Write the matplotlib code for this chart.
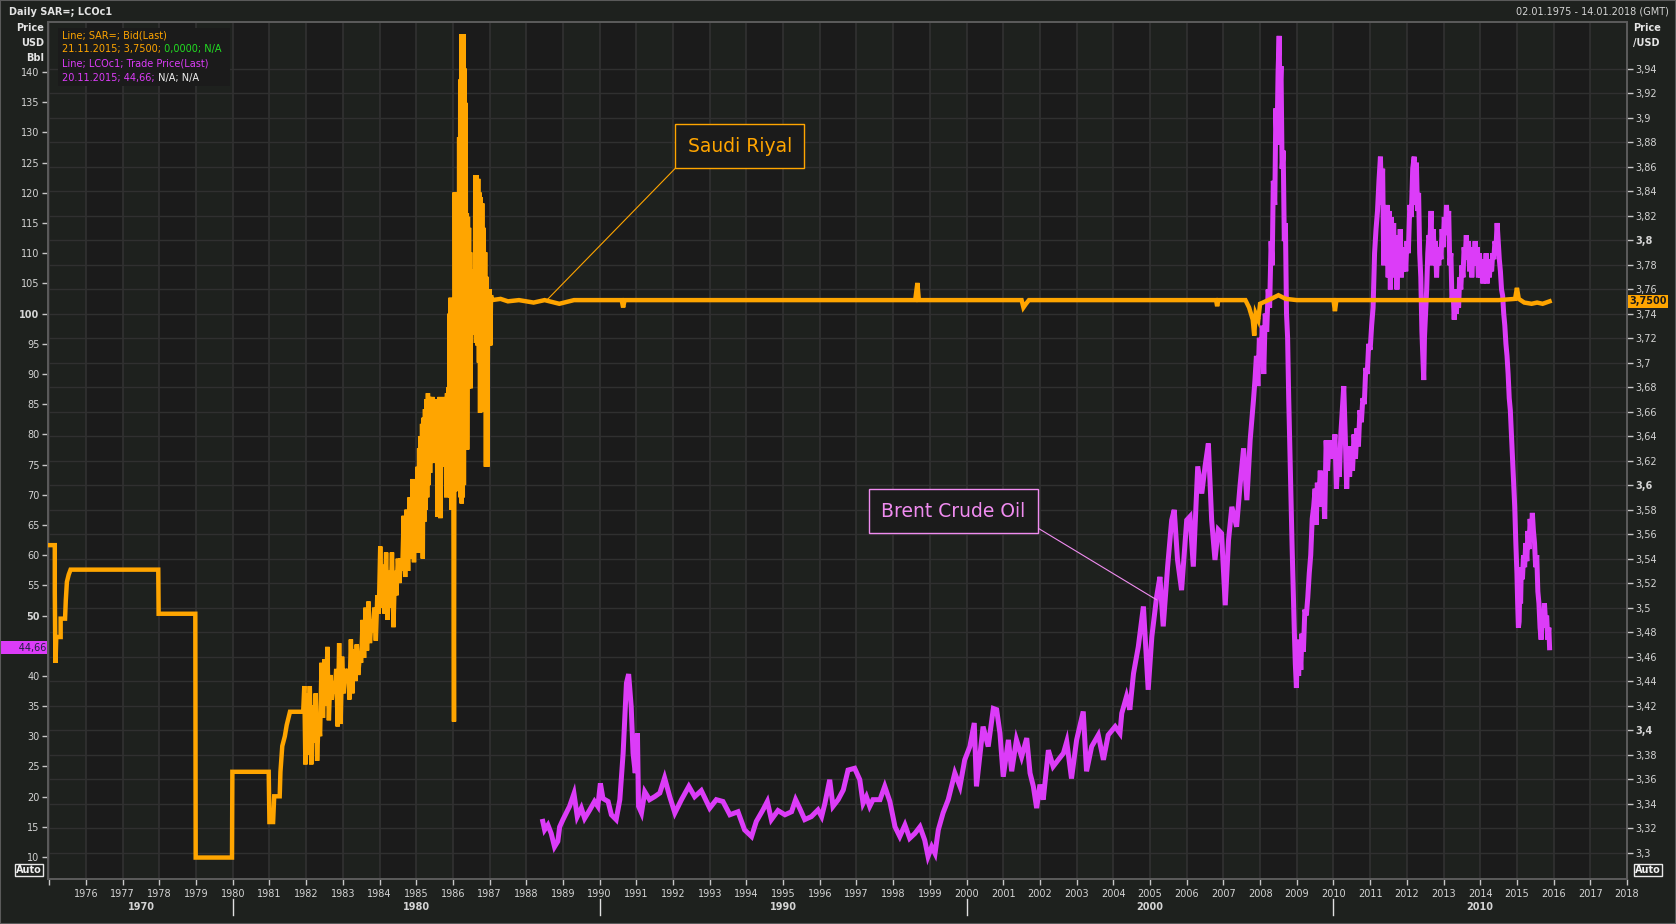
import matplotlib
matplotlib.use("Agg")
import matplotlib.pyplot as plt
import matplotlib.transforms as mtransforms
from matplotlib.patches import Rectangle
import numpy as np

W, H, DPI = 1676, 924, 100

BG = "#1e211e"
PLOT_BG = "#1b1b1b"
BAND = "#1e211e"
GRID = "#303030"
ORANGE = "#ffa500"
PURPLE = "#dc3cf8"
PINK = "#f08cf0"
GREEN = "#22dd22"
TXT = "#d4d4d4"

plt.rcParams["font.family"] = ["DejaVu Sans"]

# ---- data (decimal years) ----
# Saudi riyal per USD, right axis
sar_steps = [
    (1975.00, 3.551), (1975.15, 3.551), (1975.15, 3.513), (1975.16, 3.476),
    (1975.17, 3.455), (1975.19, 3.476), (1975.31, 3.476), (1975.31, 3.491),
    (1975.43, 3.491), (1975.45, 3.506), (1975.48, 3.521), (1975.53, 3.527),
    (1975.58, 3.531), (1977.97, 3.531), (1977.98, 3.495), (1978.98, 3.495),
    (1978.99, 3.296), (1979.98, 3.296), (1979.99, 3.366), (1980.98, 3.366),
    (1981.00, 3.325), (1981.10, 3.325), (1981.13, 3.346), (1981.28, 3.346),
    (1981.30, 3.366), (1981.35, 3.387), (1981.42, 3.395), (1981.47, 3.404),
    (1981.56, 3.415), (1981.92, 3.415),
]
sar_float = [
    (1981.95, 3.436), (1981.98, 3.372), (1982.02, 3.430), (1982.06, 3.380),
    (1982.10, 3.436), (1982.14, 3.372), (1982.18, 3.420), (1982.22, 3.390),
    (1982.26, 3.430), (1982.30, 3.375), (1982.34, 3.410), (1982.38, 3.395),
    (1982.42, 3.455), (1982.46, 3.410), (1982.50, 3.458), (1982.54, 3.420),
    (1982.58, 3.468), (1982.62, 3.408), (1982.66, 3.445), (1982.70, 3.425),
    (1982.74, 3.440), (1982.78, 3.430), (1982.82, 3.450), (1982.86, 3.403),
    (1982.90, 3.471), (1982.94, 3.405), (1982.98, 3.460), (1983.02, 3.430),
    (1983.06, 3.450), (1983.10, 3.440), (1983.14, 3.450), (1983.18, 3.425),
    (1983.22, 3.474), (1983.26, 3.430), (1983.30, 3.466), (1983.34, 3.440),
    (1983.38, 3.470), (1983.42, 3.445), (1983.46, 3.460), (1983.50, 3.455),
    (1983.54, 3.490), (1983.58, 3.459), (1983.62, 3.500), (1983.66, 3.465),
    (1983.70, 3.505), (1983.74, 3.471), (1983.78, 3.490), (1983.82, 3.480),
    (1983.86, 3.500), (1983.90, 3.473), (1983.94, 3.510), (1983.98, 3.495),
    (1984.02, 3.550), (1984.06, 3.500), (1984.10, 3.535), (1984.14, 3.495),
    (1984.18, 3.545), (1984.22, 3.490), (1984.26, 3.530), (1984.30, 3.500),
    (1984.34, 3.545), (1984.38, 3.484), (1984.42, 3.530), (1984.46, 3.510),
    (1984.50, 3.540), (1984.54, 3.520), (1984.58, 3.540), (1984.62, 3.530),
    (1984.66, 3.575), (1984.70, 3.525), (1984.74, 3.580), (1984.78, 3.530),
    (1984.82, 3.590), (1984.86, 3.540), (1984.90, 3.605), (1984.94, 3.537),
    (1984.98, 3.600),
]
sar_1985 = [
    (1985.00, 3.600), (1985.02, 3.545), (1985.04, 3.615), (1985.06, 3.550),
    (1985.08, 3.630), (1985.10, 3.560), (1985.12, 3.640), (1985.14, 3.545),
    (1985.16, 3.650), (1985.18, 3.540), (1985.20, 3.655), (1985.22, 3.570),
    (1985.24, 3.662), (1985.26, 3.580), (1985.28, 3.670), (1985.30, 3.590),
    (1985.32, 3.675), (1985.34, 3.600), (1985.36, 3.672), (1985.38, 3.610),
    (1985.40, 3.668), (1985.42, 3.618), (1985.44, 3.672), (1985.46, 3.620),
    (1985.48, 3.670), (1985.50, 3.630), (1985.52, 3.668), (1985.54, 3.618),
    (1985.56, 3.670), (1985.58, 3.574), (1985.60, 3.665), (1985.62, 3.620),
    (1985.64, 3.672), (1985.66, 3.573), (1985.68, 3.665), (1985.70, 3.622),
    (1985.72, 3.670), (1985.74, 3.615), (1985.76, 3.672), (1985.78, 3.620),
    (1985.80, 3.668), (1985.82, 3.590), (1985.84, 3.675), (1985.86, 3.615),
    (1985.88, 3.680), (1985.90, 3.600), (1985.91, 3.740), (1985.93, 3.590),
    (1985.94, 3.753), (1985.96, 3.580), (1985.97, 3.750), (1985.99, 3.590),
    (1986.00, 3.752), (1986.02, 3.500), (1986.03, 3.407), (1986.04, 3.600),
    (1986.05, 3.839), (1986.07, 3.595), (1986.08, 3.839), (1986.10, 3.600),
    (1986.11, 3.839), (1986.13, 3.598), (1986.14, 3.839), (1986.16, 3.692),
    (1986.17, 3.884), (1986.19, 3.600), (1986.20, 3.931), (1986.21, 3.590),
    (1986.23, 3.968), (1986.24, 3.585), (1986.26, 3.968), (1986.27, 3.590),
    (1986.29, 3.968), (1986.30, 3.600), (1986.32, 3.940), (1986.33, 3.629),
    (1986.35, 3.912), (1986.36, 3.629), (1986.38, 3.822), (1986.39, 3.629),
    (1986.41, 3.819), (1986.42, 3.679), (1986.44, 3.810), (1986.45, 3.680),
    (1986.47, 3.790), (1986.48, 3.679), (1986.50, 3.776), (1986.52, 3.723),
    (1986.54, 3.776), (1986.56, 3.725), (1986.58, 3.776), (1986.60, 3.724),
    (1986.61, 3.853), (1986.63, 3.716), (1986.65, 3.853), (1986.67, 3.714),
    (1986.69, 3.850), (1986.71, 3.700), (1986.72, 3.839), (1986.74, 3.659),
    (1986.76, 3.835), (1986.78, 3.660), (1986.80, 3.830), (1986.82, 3.680),
    (1986.84, 3.810), (1986.86, 3.680), (1986.88, 3.790), (1986.90, 3.615),
    (1986.92, 3.770), (1986.94, 3.615), (1986.96, 3.760), (1986.98, 3.714),
    (1987.00, 3.760), (1987.02, 3.714), (1987.04, 3.755),
]
sar_peg = [
    (1987.06, 3.751), (1987.30, 3.752), (1987.50, 3.750), (1987.80, 3.751),
    (1988.20, 3.749), (1988.50, 3.751), (1988.90, 3.748), (1989.30, 3.751),
    (1990.60, 3.751), (1990.64, 3.745), (1990.68, 3.751), (1995.00, 3.751),
    (1998.60, 3.751), (1998.66, 3.765), (1998.70, 3.751), (2001.50, 3.751),
    (2001.55, 3.745), (2001.62, 3.748), (2001.70, 3.751), (2006.80, 3.751),
    (2006.83, 3.746), (2006.86, 3.751), (2007.60, 3.751), (2007.70, 3.745),
    (2007.80, 3.735), (2007.84, 3.722), (2007.88, 3.740), (2007.95, 3.735),
    (2008.00, 3.748), (2008.30, 3.752), (2008.50, 3.755), (2008.70, 3.752),
    (2009.00, 3.751), (2010.00, 3.751), (2010.04, 3.742), (2010.08, 3.751),
    (2014.50, 3.751), (2014.95, 3.752), (2015.00, 3.761), (2015.05, 3.752),
    (2015.20, 3.749), (2015.40, 3.748), (2015.55, 3.749), (2015.70, 3.748),
    (2015.89, 3.750),
]

# Brent crude, USD/bbl, left axis
brent_1988 = [
    (1988.45, 15.9), (1988.50, 14.5), (1988.59, 15.3), (1988.68, 13.9),
    (1988.77, 11.7), (1988.86, 12.6), (1988.91, 15.0), (1989.00, 16.2),
    (1989.09, 17.3), (1989.18, 18.4), (1989.30, 20.5), (1989.39, 16.7),
    (1989.50, 18.1), (1989.59, 16.4), (1989.73, 17.8), (1989.86, 19.2),
    (1989.95, 18.4), (1990.02, 22.2), (1990.09, 19.7), (1990.23, 19.2),
    (1990.32, 17.0), (1990.45, 16.2), (1990.55, 19.5), (1990.64, 27.2),
    (1990.73, 38.8), (1990.79, 40.3), (1990.86, 34.9), (1990.91, 27.2),
    (1990.97, 23.9), (1991.03, 30.5), (1991.06, 18.4), (1991.14, 17.3),
    (1991.23, 20.8), (1991.36, 19.5), (1991.50, 20.0), (1991.64, 20.6),
    (1991.77, 23.1), (1991.91, 20.0), (1992.05, 17.3), (1992.23, 19.5),
    (1992.43, 21.7), (1992.59, 20.0), (1992.77, 21.0), (1993.00, 18.1),
    (1993.18, 19.5), (1993.36, 19.2), (1993.55, 17.0), (1993.77, 17.5),
    (1993.95, 14.5), (1994.14, 13.4), (1994.27, 15.9), (1994.45, 17.8),
    (1994.57, 19.2), (1994.68, 16.2), (1994.86, 17.7), (1995.05, 17.0),
    (1995.23, 17.5), (1995.34, 19.5), (1995.45, 18.1), (1995.59, 16.2),
    (1995.77, 16.7), (1995.95, 17.8), (1996.05, 16.7), (1996.14, 18.9),
    (1996.27, 22.8), (1996.36, 18.4), (1996.50, 19.5), (1996.64, 21.1),
    (1996.77, 24.4), (1996.95, 24.7), (1997.09, 22.8), (1997.18, 18.9),
    (1997.27, 20.0), (1997.36, 18.4), (1997.45, 19.5), (1997.64, 19.5),
    (1997.77, 21.7), (1997.91, 19.2), (1998.05, 15.0), (1998.18, 13.4),
    (1998.32, 15.3), (1998.45, 13.1), (1998.59, 13.9), (1998.73, 15.0),
    (1998.86, 12.8), (1998.95, 10.1), (1999.05, 11.7), (1999.14, 10.6),
    (1999.23, 14.5), (1999.36, 17.3), (1999.50, 19.5), (1999.68, 23.9),
    (1999.82, 21.7), (1999.95, 26.1),
]
brent_2000 = [
    (2000.09, 28.3), (2000.21, 32.2), (2000.27, 21.7), (2000.45, 31.6),
    (2000.59, 28.3), (2000.73, 34.6), (2000.82, 34.4), (2000.91, 30.5),
    (2001.00, 23.3), (2001.14, 29.4), (2001.23, 24.2), (2001.36, 29.4),
    (2001.50, 26.6), (2001.64, 29.7), (2001.73, 23.9), (2001.82, 21.7),
    (2001.91, 18.1), (2002.00, 22.0), (2002.09, 19.5), (2002.23, 27.7),
    (2002.36, 25.0), (2002.50, 26.1), (2002.64, 27.2), (2002.73, 29.1),
    (2002.86, 23.0), (2003.00, 29.4), (2003.18, 34.1), (2003.27, 24.2),
    (2003.41, 28.3), (2003.59, 30.2), (2003.73, 26.1), (2003.86, 30.2),
    (2004.05, 31.6), (2004.18, 30.5), (2004.23, 33.8), (2004.36, 36.6),
    (2004.45, 34.4), (2004.55, 40.4), (2004.68, 44.8), (2004.82, 51.5),
    (2004.95, 37.7), (2005.05, 46.5), (2005.18, 53.1), (2005.27, 56.4),
    (2005.36, 48.2), (2005.48, 58.1), (2005.59, 65.8), (2005.66, 67.5),
    (2005.75, 59.2), (2005.86, 54.2), (2006.00, 65.8), (2006.09, 66.4),
    (2006.18, 58.1), (2006.30, 74.7), (2006.41, 70.2), (2006.50, 74.7),
    (2006.59, 78.5), (2006.68, 65.8), (2006.77, 59.2), (2006.86, 64.2),
    (2006.95, 63.6), (2007.05, 51.7), (2007.14, 62.5), (2007.23, 68.0),
    (2007.36, 64.7), (2007.45, 71.3), (2007.55, 77.7), (2007.64, 69.1),
    (2007.73, 79.1), (2007.82, 85.7),
]
brent_2008 = [
    (2007.86, 89), (2007.90, 93), (2007.94, 88), (2007.98, 96), (2008.02, 92),
    (2008.06, 98), (2008.10, 90), (2008.14, 100), (2008.18, 97), (2008.22, 104),
    (2008.26, 101), (2008.30, 112), (2008.33, 108), (2008.36, 122), (2008.40, 118),
    (2008.43, 134), (2008.46, 128), (2008.49, 140), (2008.52, 146), (2008.54, 136),
    (2008.57, 141), (2008.60, 124), (2008.63, 127), (2008.66, 112), (2008.69, 115),
    (2008.72, 100), (2008.75, 96), (2008.78, 86), (2008.81, 78), (2008.84, 70),
    (2008.87, 62), (2008.90, 55), (2008.93, 48), (2008.96, 42), (2008.99, 38),
    (2009.02, 46), (2009.05, 40), (2009.08, 45), (2009.11, 41), (2009.14, 47),
    (2009.18, 44), (2009.22, 51), (2009.26, 50), (2009.30, 53), (2009.34, 57),
    (2009.38, 60), (2009.42, 66), (2009.46, 68), (2009.50, 71), (2009.53, 65),
    (2009.56, 72), (2009.60, 69), (2009.64, 74), (2009.68, 68), (2009.72, 73),
    (2009.76, 66), (2009.80, 79), (2009.84, 74), (2009.88, 79), (2009.92, 76),
    (2009.96, 79), (2010.00, 77), (2010.04, 80), (2010.08, 71), (2010.12, 76),
    (2010.16, 73), (2010.20, 80), (2010.24, 84), (2010.28, 88), (2010.32, 80),
    (2010.36, 71), (2010.40, 78), (2010.44, 73), (2010.48, 78), (2010.52, 74),
    (2010.56, 80), (2010.60, 76), (2010.64, 81), (2010.68, 78), (2010.72, 84),
    (2010.76, 82), (2010.80, 86), (2010.84, 85), (2010.88, 91), (2010.92, 90),
    (2010.96, 95), (2011.00, 94), (2011.04, 98), (2011.08, 101), (2011.12, 110),
    (2011.16, 114), (2011.20, 117), (2011.24, 122), (2011.28, 126), (2011.31, 118),
    (2011.34, 124), (2011.37, 108), (2011.40, 115), (2011.43, 112), (2011.46, 118),
    (2011.49, 106), (2011.52, 117), (2011.55, 104), (2011.58, 116), (2011.61, 108),
    (2011.64, 115), (2011.67, 106), (2011.70, 113), (2011.73, 104), (2011.76, 111),
    (2011.79, 107), (2011.82, 114), (2011.85, 106), (2011.88, 110), (2011.91, 107),
    (2011.94, 111), (2011.97, 107), (2012.00, 112), (2012.04, 110), (2012.08, 118),
    (2012.12, 116), (2012.16, 124), (2012.20, 126), (2012.23, 118), (2012.26, 125),
    (2012.29, 117), (2012.32, 120), (2012.35, 110), (2012.38, 106), (2012.41, 97),
    (2012.44, 92), (2012.46, 89), (2012.48, 96), (2012.51, 100), (2012.54, 104),
    (2012.57, 110), (2012.60, 113), (2012.63, 112), (2012.66, 117), (2012.69, 108),
    (2012.72, 114), (2012.75, 109), (2012.78, 112), (2012.81, 106), (2012.84, 111),
    (2012.87, 108), (2012.90, 111), (2012.93, 109), (2012.96, 114), (2012.99, 111),
    (2013.02, 116), (2013.05, 113), (2013.08, 118), (2013.11, 114), (2013.14, 117),
    (2013.17, 108), (2013.20, 110), (2013.23, 102), (2013.26, 104), (2013.29, 99),
    (2013.32, 103), (2013.35, 100), (2013.38, 104), (2013.41, 101), (2013.44, 106),
    (2013.47, 104), (2013.50, 108), (2013.53, 106), (2013.56, 111), (2013.59, 109),
    (2013.62, 113), (2013.65, 109), (2013.68, 112), (2013.71, 107), (2013.74, 111),
    (2013.77, 106), (2013.80, 110), (2013.83, 108), (2013.86, 112), (2013.89, 108),
    (2013.92, 111), (2013.95, 106), (2013.98, 110), (2014.01, 106), (2014.04, 109),
    (2014.07, 105), (2014.10, 109), (2014.13, 106), (2014.16, 110), (2014.19, 105),
    (2014.22, 108), (2014.25, 106), (2014.28, 109), (2014.31, 107), (2014.34, 110),
    (2014.37, 109), (2014.40, 112), (2014.43, 111), (2014.46, 115), (2014.49, 112),
    (2014.52, 109), (2014.55, 107), (2014.58, 104), (2014.61, 103), (2014.64, 100),
    (2014.67, 98), (2014.70, 95), (2014.73, 93), (2014.76, 90), (2014.79, 86),
    (2014.82, 84), (2014.85, 80), (2014.88, 76), (2014.91, 72), (2014.94, 68),
    (2014.97, 62), (2015.00, 57), (2015.02, 52), (2015.04, 48), (2015.06, 49),
    (2015.08, 55), (2015.10, 52), (2015.12, 58), (2015.15, 56), (2015.18, 60),
    (2015.21, 58), (2015.24, 62), (2015.27, 59), (2015.30, 64), (2015.33, 61),
    (2015.36, 66), (2015.39, 63), (2015.42, 67), (2015.45, 64), (2015.48, 62),
    (2015.51, 58), (2015.54, 60), (2015.57, 54), (2015.60, 52), (2015.63, 48),
    (2015.66, 46), (2015.69, 50), (2015.72, 48), (2015.75, 52), (2015.78, 49),
    (2015.81, 50), (2015.84, 46), (2015.87, 48), (2015.89, 44.66),
]

# 45 sits behind the last-value tag in the original
left_ticks = [v for v in range(10, 141, 5) if v != 45]
right_ticks = [round(3.30 + 0.02 * i, 2) for i in range(33)]
year_ticks = list(range(1976, 2019))
decades = [("1970", 1977.5), ("1980", 1985.0), ("1990", 1995.0),
           ("2000", 2005.0), ("2010", 2014.0)]
decade_marks = [1980, 1990, 2000, 2010]

sar = np.array(sar_steps + sar_float + sar_1985 + sar_peg)
brent = np.array(brent_1988 + brent_2000 + brent_2008)


def px(x, y):
    return x / W, 1 - y / H


# ---- figure ----
fig = plt.figure(figsize=(W / DPI, H / DPI), dpi=DPI, facecolor=BG)
fig.patches.append(Rectangle((0, 0), 1, 1, transform=fig.transFigure,
                             fill=False, ec="#5a5a5a", lw=1.5))

x0, x1, ytop, ybot = 48, 1627, 22, 879
ax = fig.add_axes([x0 / W, 1 - ybot / H, (x1 - x0) / W, (ybot - ytop) / H])
ax.set_facecolor(PLOT_BG)
XL = (1974.965, 2018.0)
YL = (6.36, 148.3)
YR = (3.2785, 3.978)
ax.set_xlim(*XL)
ax.set_ylim(*YL)

for y in range(1975, 2018, 2):
    ax.axvspan(y, y + 1, color=BAND, lw=0, zorder=0)
for y in range(1975, 2019):
    ax.axvline(y, color=GRID, lw=1.3, zorder=0.5)
# horizontal grid follows the right axis ticks
for v in right_ticks:
    lv = YL[0] + (v - YR[0]) * (YL[1] - YL[0]) / (YR[1] - YR[0])
    ax.axhline(lv, color=GRID, lw=1.0, zorder=0.5)

ax.plot(brent[:, 0], brent[:, 1], color=PURPLE, lw=3.6, zorder=3,
        solid_joinstyle="miter")

ax2 = ax.twinx()
ax2.set_ylim(*YR)
ax2.plot(sar[:, 0], sar[:, 1], color=ORANGE, lw=3.2, zorder=3,
         solid_joinstyle="miter")

for a in (ax, ax2):
    for s in a.spines.values():
        s.set_color("#5c5c5c")
        s.set_linewidth(1.2)

# ticks
ax.set_yticks(left_ticks)
ax.set_yticklabels([str(v) for v in left_ticks])
ax2.set_yticks(right_ticks)
ax2.set_yticklabels([("%g" % v).replace(".", ",") for v in right_ticks])
ax.set_xticks(year_ticks)
ax.set_xticklabels([str(y) for y in year_ticks])
ax.set_xticks([1975], minor=True)
ax.tick_params(axis="both", which="both", colors="#c8c8c8", labelcolor=TXT,
               labelsize=7, length=4, width=1)
ax.tick_params(axis="x", pad=3)
ax.tick_params(axis="y", pad=2)
ax2.tick_params(axis="y", colors="#c8c8c8", labelcolor=TXT, labelsize=7,
                length=4, width=1, pad=2)
for lab, v in zip(ax.get_yticklabels(), left_ticks):
    if v in (50, 100):
        lab.set_fontweight("bold")
for lab, v in zip(ax2.get_yticklabels(), right_ticks):
    if v in (3.4, 3.6, 3.8):
        lab.set_fontweight("bold")

# decade labels under the years
for lab, xv in decades:
    ax.annotate(lab, xy=(xv, 0), xycoords=("data", "axes fraction"),
                xytext=(0, -28), textcoords="offset pixels", ha="center",
                va="center", fontsize=7, fontweight="bold", color=TXT,
                annotation_clip=False)
sep_tr = mtransforms.blended_transform_factory(ax.transData, fig.transFigure)
for xv in decade_marks:
    ax.plot([xv, xv], [1 - 899 / H, 1 - 915 / H], transform=sep_tr,
            color="#e0e0e0", lw=1, clip_on=False)

# last value tags
ax.annotate("      44,66", xy=(0, 44.66), xycoords=("axes fraction", "data"),
            xytext=(-2, 0), textcoords="offset pixels", ha="right",
            va="center", fontsize=7, color="#202040", annotation_clip=False,
            zorder=10,
            bbox=dict(boxstyle="square,pad=0.15", fc=PURPLE, ec="none"))
ax2.annotate("3,7500", xy=(1, 3.75), xycoords=("axes fraction", "data"),
             xytext=(2, 0), textcoords="offset pixels", ha="left", va="center",
             fontsize=7, fontweight="bold", color="#1a1a1a",
             annotation_clip=False, zorder=10,
             bbox=dict(boxstyle="square,pad=0.15", fc=ORANGE, ec="none"))

# callouts
ax2.annotate("Saudi Riyal", xy=(1988.56, 3.751), xytext=(1993.82, 3.8767),
             ha="center", va="center", fontsize=13.5, color=ORANGE, zorder=8,
             bbox=dict(boxstyle="square,pad=0.66", fc=PLOT_BG, ec=ORANGE, lw=1),
             arrowprops=dict(arrowstyle="-", color=ORANGE, lw=0.8,
                             relpos=(0, 0), shrinkA=0, shrinkB=0))
ax.annotate("Brent Crude Oil", xy=(2005.18, 52.6), xytext=(1999.64, 67.3),
            ha="center", va="center", fontsize=13.5, color=PINK, zorder=8,
            bbox=dict(boxstyle="square,pad=0.66", fc=PLOT_BG, ec=PINK, lw=1),
            arrowprops=dict(arrowstyle="-", color=PINK, lw=0.8,
                            relpos=(1, 0), shrinkA=0, shrinkB=0))

# header texts
fig.text(*px(9, 12), "Daily SAR=; LCOc1", fontsize=7, fontweight="bold",
         color="#e4e4e4", va="center", ha="left")
fig.text(*px(1669, 12), "02.01.1975 - 14.01.2018 (GMT)", fontsize=7,
         color=TXT, va="center", ha="right")
for i, s in enumerate(["Price", "USD", "Bbl"]):
    fig.text(*px(44, 28 + 15 * i), s, fontsize=7, fontweight="bold",
             color="#e4e4e4", va="center", ha="right")
for i, s in enumerate(["Price", "/USD"]):
    fig.text(*px(1633, 28 + 15 * i), s, fontsize=7, fontweight="bold",
             color="#e4e4e4", va="center", ha="left")
for xa in (29, 1648):
    fig.text(*px(xa, 870), "Auto", fontsize=7, fontweight="bold", color="#f0f0f0",
             va="center", ha="center",
             bbox=dict(boxstyle="square,pad=0.15", fc="none", ec="#e8e8e8", lw=1))

# legend block, drawn on the top axes so it sits over the lines
ax2.add_patch(Rectangle(px(58, 86), 172 / W, 58 / H, transform=fig.transFigure,
                        fc=PLOT_BG, ec="none", zorder=9))
legend_rows = [
    [("Line; SAR=; Bid(Last)", ORANGE)],
    [("21.11.2015; 3,7500;", ORANGE), (" 0,0000; N/A", GREEN)],
    [("Line; LCOc1; Trade Price(Last)", PURPLE)],
    [("20.11.2015; 44,66;", PURPLE), (" N/A; N/A", "#f0f0f0")],
]
for i, row in enumerate(legend_rows):
    prev = ax2.text(*px(62, 35 + 14.4 * i), row[0][0], transform=fig.transFigure,
                    fontsize=7, color=row[0][1], va="center", ha="left", zorder=10)
    for s, c in row[1:]:
        prev = ax2.annotate(s, xy=(1, 0), xycoords=prev, va="bottom", ha="left",
                            fontsize=7, color=c, annotation_clip=False, zorder=10)

fig.savefig("out.png", dpi=DPI, facecolor=BG)
